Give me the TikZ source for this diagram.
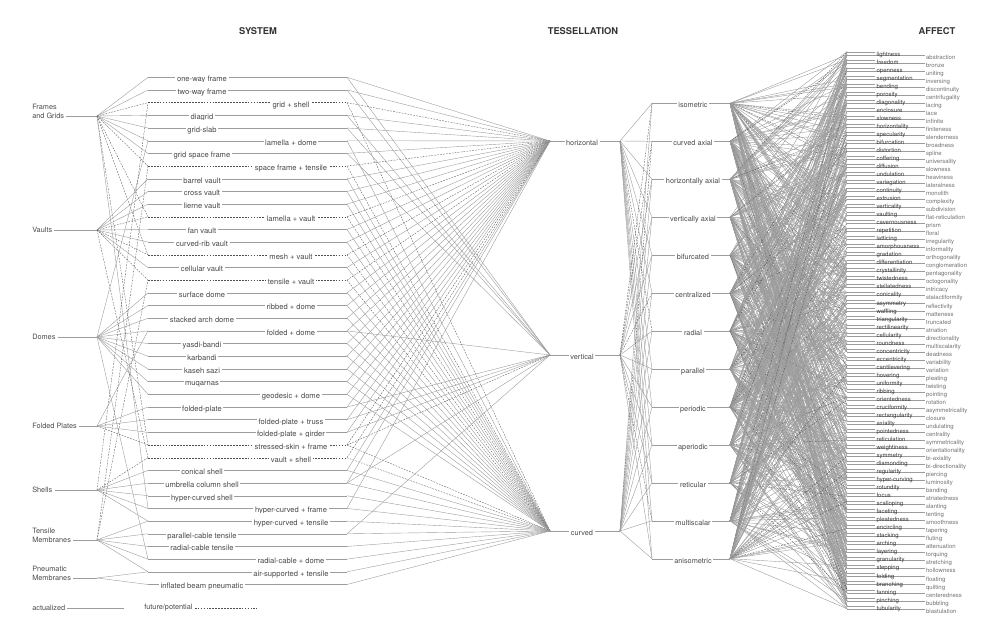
\documentclass[tikz,border=0pt]{standalone}
\usepackage{fontspec}
\setmainfont{TeX Gyre Heros}
\usetikzlibrary{calc}
\definecolor{inkgray}{HTML}{4A4A4A}
\definecolor{softink}{HTML}{707070}
\definecolor{wiregray}{HTML}{9C9C9C}
\definecolor{dashgray}{HTML}{505050}
\tikzset{
  actual/.style={draw=wiregray, line width=0.3pt},
  potential/.style={draw=dashgray, line width=0.25pt, dash pattern=on 1.3pt off 0.9pt},
  heading/.style={font=\bfseries\fontsize{7}{8}\selectfont, text=black!80},
  catname/.style={font=\fontsize{5.5}{6.6}\selectfont, text=inkgray, align=left, inner sep=0pt},
  sysname/.style={font=\fontsize{5.7}{6.5}\selectfont, text=inkgray, fill=white, inner sep=1.2pt, text height=1.5ex, text depth=.25ex},
  tessname/.style={font=\fontsize{5.5}{6.5}\selectfont, text=inkgray, fill=white, inner sep=1.2pt, text height=1.5ex, text depth=.25ex},
  affname/.style={font=\fontsize{4.5}{5}\selectfont, text=black!78, inner sep=1pt, anchor=west, text height=1.5ex, text depth=.25ex},
}

\begin{document}
\begin{tikzpicture}[x=0.75pt,y=-0.75pt]
\useasboundingbox (0,0) rectangle (1000,643);
\pgfmathsetseed{1234}

% headings
\node[heading] (hsys) at (258,31) {SYSTEM};
\node[heading] (htes) at (583,31) {TESSELLATION};
\node[heading] (haff) at (937,31) {AFFECT};

% tessellation, first level
\foreach \n/\txt/\y in {h/horizontal/141, v/vertical/355, c/curved/531}{
  \coordinate (\n-in) at (550,\y);
  \coordinate (\n-out) at (620,\y);
  \draw[actual] (\n-in) -- (\n-out);
  \node[tessname] (\n) at (582,\y) {\txt};
}

% tessellation, second level
\foreach \pj/\txt in {1/isometric, 2/curved axial, 3/horizontally axial, 4/vertically axial,
    5/bifurcated, 6/centralized, 7/radial, 8/parallel, 9/periodic, 10/aperiodic,
    11/reticular, 12/multiscalar, 13/anisometric}{
  \pgfmathsetmacro\y{103.3+37.95*(\pj-1)}
  \coordinate (p\pj-in) at (652,\y);
  \coordinate (p\pj-out) at (730,\y);
  \draw[actual] (p\pj-in) -- (p\pj-out);
  \node[tessname] (p\pj) at (693,\y) {\txt};
}

\foreach \n in {h,v,c}{
  \foreach \pj in {1,...,13}{
    \pgfmathrandominteger{\rd}{1}{5}
    \ifnum\rd=1 \draw[potential] (\n-out) -- (p\pj-in);
    \else \draw[actual] (\n-out) -- (p\pj-in);\fi
  }
}

% system
\foreach \si/\txt/\cx/\kind/\tg in {
    1/one-way frame/202/actual/{h,v}, 2/two-way frame/202/actual/{h,v},
    3/grid + shell/291/potential/{h,c}, 4/diagrid/202/actual/{h,v},
    5/grid-slab/202/actual/{h,v}, 6/lamella + dome/291/actual/{h,c},
    7/grid space frame/202/actual/{h,v}, 8/space frame + tensile/291/potential/{h,c},
    9/barrel vault/202/actual/{h,c}, 10/cross vault/202/actual/{h,c},
    11/lierne vault/202/actual/{h,c}, 12/lamella + vault/291/potential/{h,c},
    13/fan vault/202/actual/{h,c}, 14/curved-rib vault/202/actual/{h,c},
    15/mesh + vault/291/potential/{h,c}, 16/cellular vault/202/actual/{h,c},
    17/tensile + vault/291/potential/{h,c}, 18/surface dome/202/actual/{h,c},
    19/ribbed + dome/291/actual/{h,c}, 20/stacked arch dome/202/actual/{h,c},
    21/folded + dome/291/actual/{h,v,c}, 22/yasdi-bandi/202/actual/{h,c},
    23/karbandi/202/actual/{h,c}, 24/kaseh sazi/202/actual/{h,c},
    25/muqarnas/202/actual/{h,c}, 26/geodesic + dome/291/actual/{h,c},
    27/folded-plate/202/actual/{h,v}, 28/folded-plate + truss/291/actual/{h,v},
    29/folded-plate + girder/291/actual/{h,v}, 30/stressed-skin + frame/291/potential/{h,v,c},
    31/vault + shell/291/potential/{h,c}, 32/conical shell/202/actual/{h,c},
    33/umbrella column shell/202/actual/{h,v,c}, 34/hyper-curved shell/202/actual/{c},
    35/hyper-curved + frame/291/actual/{h,c}, 36/hyper-curved + tensile/291/actual/{c},
    37/parallel-cable tensile/202/actual/{v,c}, 38/radial-cable tensile/202/actual/{c},
    39/radial-cable + dome/291/actual/{c}, 40/air-supported + tensile/291/actual/{c},
    41/inflated beam pneumatic/202/actual/{c}}{
  \pgfmathsetmacro\y{77.3+12.68*(\si-1)}
  \expandafter\xdef\csname sk\si\endcsname{\kind}
  \coordinate (s\si-l) at (148,\y);
  \coordinate (s\si-r) at (347,\y);
  \draw[\kind] (s\si-l) -- (s\si-r);
  \node[sysname] (s\si) at (\cx,\y) {\txt};
  \foreach \n in \tg {\draw[\kind] (s\si-r) -- (\n-in);}
}

% categories
\foreach \n/\txt/\y in {fg/{Frames\\and Grids}/116, va/Vaults/230, do/Domes/337,
    fp/Folded Plates/426, sh/Shells/490, tm/{Tensile\\Membranes}/540,
    pn/{Pneumatic\\Membranes}/578}{
  \node[catname, anchor=south west] (\n) at (32,\y+2.5) {\txt};
  \coordinate (\n-f) at (97,\y);
  \draw[actual] ($(\n.east |- \n-f)+(2,0)$) -- (\n-f);
}

\foreach \cat/\lst in {fg/{1,2,3,4,5,6,7,8,12,15,30,35}, va/{9,10,11,12,13,14,15,16,17,31},
    do/{6,18,19,20,21,22,23,24,25,26,39}, fp/{21,27,28,29,30}, sh/{3,31,32,33,34,35,36},
    tm/{8,17,36,37,38,39,40}, pn/{40,41}}{
  \foreach \si in \lst {
    \edef\lk{\csname sk\si\endcsname}
    \draw[\lk] (\cat-f) -- (s\si-l);
  }
}

% affect
\foreach \ak/\txt in {1/abstraction,2/bronze,3/uniting,4/inversing,5/discontinuity,
    6/centrifugality,7/lacing,8/lace,9/infinite,10/finiteness,11/slenderness,12/broadness,
    13/spline,14/universality,15/slowness,16/heaviness,17/lateralness,18/monolith,
    19/complexity,20/subdivision,21/flat-reticulation,22/prism,23/floral,24/irregularity,
    25/informality,26/orthogonality,27/conglomeration,28/pentagonality,29/octogonality,
    30/intricacy,31/stalactiformity,32/reflectivity,33/matteness,34/truncated,35/striation,
    36/directionality,37/multiscalarity,38/deadness,39/variability,40/variation,
    41/pleating,42/twisting,43/pointing,44/rotation,45/asymmetricality,46/closure,
    47/undulating,48/centrality,49/symmetricality,50/orientationality,51/bi-axiality,
    52/bi-directionality,53/piercing,54/luminosity,55/banding,56/striatedness,57/slanting,
    58/tenting,59/smoothness,60/tapering,61/fluting,62/attenuation,63/torquing,
    64/stretching,65/hollowness,66/floating,67/quilting,68/centeredness,69/bubbling,
    70/blastulation}{
  \pgfmathsetmacro\y{54.7+8.03*(\ak-1)}
  \coordinate (aR\ak-in) at (847,\y);
  \node[affname, text=softink] (aR\ak) at (924.5,\y) {\txt};
  \draw[actual] (aR\ak-in) -- (aR\ak.west);
}
\foreach \ak/\txt in {1/lightness,2/freedom,3/openness,4/segmentation,5/bending,6/porosity,
    7/diagonality,8/enclosure,9/slowness,10/horizontality,11/specularity,12/bifurcation,
    13/distortion,14/coffering,15/diffusion,16/undulation,17/variegation,18/continuity,
    19/extrusion,20/verticality,21/vaulting,22/cavernousness,23/repetition,24/latticing,
    25/amorphousness,26/gradation,27/differentiation,28/crystallinity,29/twistedness,
    30/stellatedness,31/conicality,32/asymmetry,33/waffling,34/triangularity,
    35/rectilinearity,36/cellularity,37/roundness,38/concentricity,39/eccentricity,
    40/cantilevering,41/hovering,42/uniformity,43/ribbing,44/orientedness,45/cruciformity,
    46/rectangularity,47/axiality,48/pointedness,49/reticulation,50/weightiness,
    51/symmetry,52/diamonding,53/regularity,54/hyper-curving,55/rotundity,56/focus,
    57/scalloping,58/faceting,59/pleatedness,60/encircling,61/stacking,62/arching,
    63/layering,64/granularity,65/stepping,66/folding,67/branching,68/fanning,
    69/pinching,70/tubularity}{
  \pgfmathsetmacro\y{51.7+8.03*(\ak-1)}
  \coordinate (aL\ak-in) at (847,\y);
  \node[affname] (aL\ak) at (875,\y) {\txt};
  \draw[actual] (aL\ak-in) -- (aL\ak.west);
}

\foreach \pj in {1,...,13}{
  \foreach \ak in {1,...,70}{
    \pgfmathrandominteger{\rl}{1}{40}
    \pgfmathrandominteger{\rr}{1}{40}
    \ifnum\rl<14 \draw[actual] (p\pj-out) -- (aL\ak-in);\fi
    \ifnum\rl=40 \draw[potential] (p\pj-out) -- (aL\ak-in);\fi
    \ifnum\rr<14 \draw[actual] (p\pj-out) -- (aR\ak-in);\fi
    \ifnum\rr=40 \draw[potential] (p\pj-out) -- (aR\ak-in);\fi
  }
}

% legend
\node[catname, anchor=west] (lgact) at (32,608) {actualized};
\coordinate (lgact-e) at (124,608);
\draw[actual] ($(lgact.east)+(1,0)$) -- (lgact-e);
\node[catname, anchor=west] (lgpot) at (144,608) {future/potential};
\coordinate (lgpot-e) at (257,608);
\draw[potential] ($(lgpot.east)+(2,0)$) -- (lgpot-e);
\end{tikzpicture}
\end{document}
